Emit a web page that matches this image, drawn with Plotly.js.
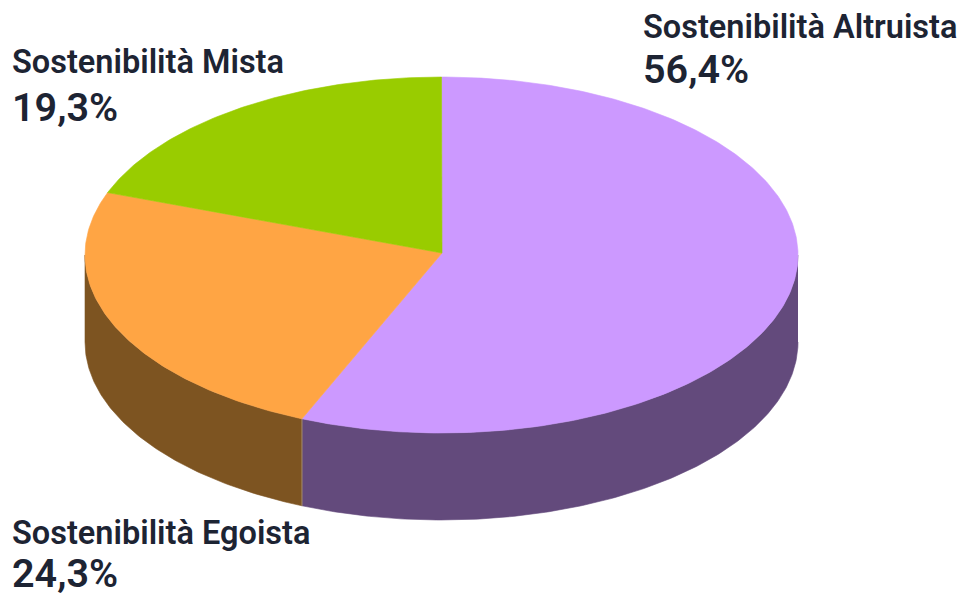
<!DOCTYPE html>
<html>
<head>
<meta charset="utf-8">
<script src="https://cdn.plot.ly/plotly-3.0.1.min.js"></script>
<style>html,body{margin:0;padding:0;background:#fff}#chart{width:964px;height:597px}</style>
</head>
<body>
<div id="chart"></div>
<script>
// Survey shares, clockwise from twelve o'clock
const categories = ['Sostenibilità Altruista', 'Sostenibilità Egoista', 'Sostenibilità Mista'];
const shares = [56.4, 24.3, 19.3];
const topColors = ['#cc99ff', '#ffa544', '#99cc00'];
const sideColors = ['#634a7c', '#7d5421', '#4f6a00'];
const labelAnchors = [[643, 27, 69], [12, 533, 573], [12, 62, 107]];

// Disc geometry in page pixels
const cx = 441.5, cy = 255, rx = 356.5, ry = 178, depth = 87;
const apex = [442, 253];

const total = shares.reduce((a, b) => a + b, 0);
const rimPoint = (t, drop) => [cx + rx * Math.sin(t), cy - ry * Math.cos(t) + drop];
const arc = (from, to, drop) => {
  const pts = [], n = Math.max(2, Math.ceil(Math.abs(to - from) * 90));
  for (let i = 0; i <= n; i++) pts.push(rimPoint(from + (to - from) * i / n, drop));
  return pts;
};
const polygon = (pts, color, line) => ({
  type: 'scatter', mode: 'lines', hoverinfo: 'skip', showlegend: false,
  x: pts.map(p => p[0]), y: pts.map(p => p[1]),
  fill: line ? 'none' : 'toself', fillcolor: color,
  line: {color, width: line || 0.6}
});

const sides = [], tops = [], seams = [];
let start = 0;
shares.forEach((v, i) => {
  const end = start + v / total * 2 * Math.PI;
  tops.push(polygon([apex, ...arc(start, end, 0), apex], topColors[i]));
  // Only the front half of the wall (90° to 270°) faces the viewer
  const a = Math.max(start, Math.PI / 2), b = Math.min(end, 3 * Math.PI / 2);
  if (b > a) {
    sides.push(polygon([...arc(a, b, 0), ...arc(b, a, depth)], sideColors[i]));
    if (end < 3 * Math.PI / 2) seams.push(polygon([rimPoint(end, 0), rimPoint(end, depth)], '#a58c6a', 1));
  }
  start = end;
});

const annotations = [];
categories.forEach((name, i) => {
  const [x, y1, y2] = labelAnchors[i];
  annotations.push({x, y: y1, text: name, xref: 'x', yref: 'y', xanchor: 'left', yanchor: 'middle', showarrow: false, xshift: -2,
    font: {family: 'Roboto', size: 32.5, color: '#1d2433', weight: 600}});
  annotations.push({x, y: y2, text: shares[i].toFixed(1).replace('.', ',') + '%', xref: 'x', yref: 'y', xanchor: 'left', yanchor: 'middle', showarrow: false, xshift: -2,
    font: {family: 'Roboto', size: 39.5, color: '#1d2433', weight: 600}});
});

Plotly.newPlot('chart', [...sides, ...seams, ...tops], {
  width: 964, height: 597,
  margin: {l: 0, r: 0, t: 0, b: 0},
  paper_bgcolor: '#fff', plot_bgcolor: '#fff',
  xaxis: {range: [0, 964], visible: false, fixedrange: true},
  yaxis: {range: [597, 0], visible: false, fixedrange: true},
  annotations
}, {displayModeBar: false, staticPlot: true});
</script>
</body>
</html>
